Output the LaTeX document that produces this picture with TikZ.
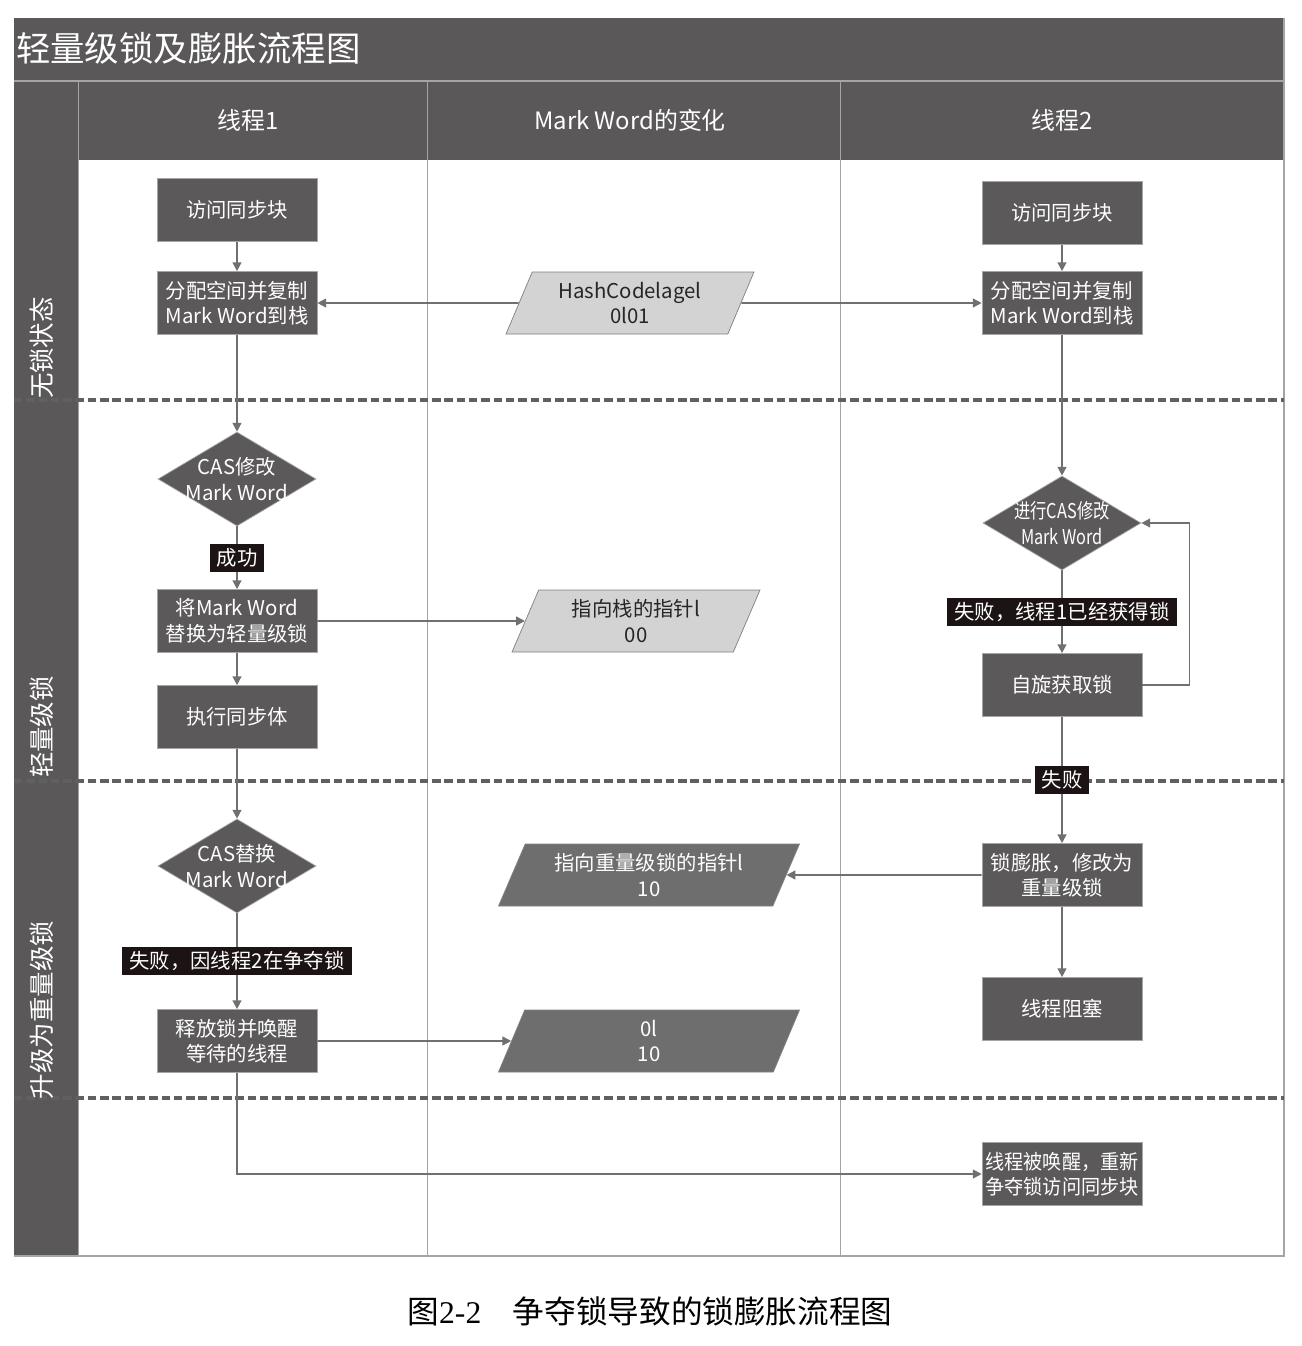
\documentclass[tikz,border=0pt]{standalone}
\usepackage{fontspec}
\setmainfont{Noto Sans CJK SC}
\newfontfamily\capserif{Liberation Serif}
\usetikzlibrary{shapes.geometric,arrows.meta}
\definecolor{bargray}{HTML}{5A5858}
\definecolor{boxgray}{HTML}{5B5959}
\definecolor{paragray}{HTML}{6E6E6E}
\definecolor{palegray}{HTML}{D3D3D3}
\definecolor{tagblack}{HTML}{1C1414}
\definecolor{linegray}{HTML}{707070}
\definecolor{rulegray}{HTML}{A5A5A5}
\definecolor{dashgray}{HTML}{606060}

\begin{document}
\begin{tikzpicture}[x=0.02cm,y=-0.02cm,
  >={Triangle[length=5pt,width=5pt]},
  box/.style={draw=gray!70,fill=boxgray,text=white,minimum width=3.2cm,minimum height=1.26cm,inner sep=1pt,align=center,font=\fontsize{11.6}{14.5}\selectfont},
  decision/.style={diamond,draw=gray!70,fill=boxgray,text=white,aspect=1.68,inner sep=-8pt,minimum width=3.16cm,minimum height=1.88cm,align=center,font=\fontsize{11.6}{14.5}\selectfont},
  mword/.style={trapezium,trapezium left angle=64,trapezium right angle=116,trapezium stretches body,draw=gray,minimum height=1.24cm,minimum width=4.96cm,align=center,font=\fontsize{11.6}{14.5}\selectfont},
  lightword/.style={mword,fill=palegray,text=black!85},
  darkword/.style={mword,fill=paragray,text=white,minimum width=6.02cm},
  tag/.style={fill=tagblack,text=white,inner xsep=4pt,inner ysep=2.5pt,font=\fontsize{11.6}{14}\selectfont},
  flow/.style={draw=linegray,line width=0.9pt,->},
  lane/.style={text=white,rotate=90,font=\fontsize{14.5}{16}\selectfont},
  head/.style={text=white,font=\fontsize{13.6}{16}\selectfont}]
\useasboundingbox (0,0) rectangle (1302,1346);

\fill[bargray] (14,18) rectangle (1284,80);
\fill[bargray] (14,80) rectangle (78,1256);
\fill[bargray] (78,82) rectangle (1284,160);
\draw[rulegray,line width=1pt] (14,81) -- (1284,81);
\draw[rulegray] (78,82) -- (78,1256);
\draw[rulegray] (427,82) -- (427,1256);
\draw[rulegray] (840,82) -- (840,1256);
\draw[rulegray,line width=1pt] (14,1256) -- (1284,1256) -- (1284,18);
\foreach \y in {400,781,1098}
  \draw[dashgray,line width=2pt,dash pattern=on 4.8pt off 2.2pt] (14,\y) -- (1284,\y);

\node[anchor=west,text=white,inner sep=1pt,font=\fontsize{19.6}{22}\selectfont] (title) at (14,48) {轻量级锁及膨胀流程图};
\node[head] (thread1) at (248,120) {线程1};
\node[head] (markword) at (630,120) {Mark Word的变化};
\node[head] (thread2) at (1062,120) {线程2};
\node[lane] (nolock) at (42,348) {无锁状态};
\node[lane] (thinlock) at (42,727) {轻量级锁};
\node[lane] (fatlock) at (42,1010) {升级为重量级锁};

\node[box] (visit1) at (237,210) {访问同步块};
\node[box] (alloc1) at (237,303) {分配空间并复制\\Mark Word到栈};
\node[decision] (cas1) at (237,479) {CAS修改\\Mark Word};
\node[box] (swap1) at (237,621) {将Mark Word\\替换为轻量级锁};
\node[box] (exec1) at (237,717) {执行同步体};
\node[decision] (cas2) at (237,866) {CAS替换\\Mark Word};
\node[box] (release1) at (237,1041) {释放锁并唤醒\\等待的线程};

\node[lightword] (hash) at (630,303) {HashCodelagel\\0l01};
\node[lightword] (stackptr) at (636,621) {指向栈的指针l\\00};
\node[darkword] (monptr) at (649,875) {指向重量级锁的指针l\\10};
\node[darkword] (unlocked) at (649,1041) {0l\\10};

\node[box] (visit2) at (1062,213) {访问同步块};
\node[box] (alloc2) at (1062,303) {分配空间并复制\\Mark Word到栈};
\node[decision,font=\fontsize{11.6}{14.5}\selectfont\addfontfeatures{FakeStretch=0.8}] (cas3) at (1062,523) {进行CAS修改\\Mark Word};
\node[box] (spin2) at (1062,685) {自旋获取锁};
\node[box] (inflate2) at (1062,875) {锁膨胀，修改为\\重量级锁};
\node[box] (block2) at (1062,1009) {线程阻塞};
\node[box,inner sep=0pt,font=\fontsize{11.6}{14.5}\selectfont\addfontfeatures{FakeStretch=0.94}] (wake2) at (1062,1174) {线程被唤醒，重新\\争夺锁访问同步块};

\draw[flow] (visit1) -- (alloc1);
\draw[flow] (hash) -- (alloc1);
\draw[flow] (hash) -- (alloc2);
\draw[flow] (alloc1) -- (cas1);
\draw[flow] (cas1) -- node[tag] {成功} (swap1);
\draw[flow] (swap1) -- (stackptr);
\draw[flow] (swap1) -- (exec1);
\draw[flow] (exec1) -- (cas2);
\draw[flow] (cas2) -- node[tag] {失败，因线程2在争夺锁} (release1);
\draw[flow] (release1) -- (unlocked);
\draw[flow] (release1) |- (wake2);
\draw[flow] (visit2) -- (alloc2);
\draw[flow] (alloc2) -- (cas3);
\draw[flow] (cas3) -- node[tag] {失败，线程1已经获得锁} (spin2);
\draw[flow] (spin2.east) -- ++(47,0) |- (cas3.east);
\draw[flow] (spin2) -- node[tag] {失败} (inflate2);
\draw[flow] (inflate2) -- (monptr);
\draw[flow] (inflate2) -- (block2);

\node[font=\fontsize{18}{20}\selectfont] (caption) at (650,1311) {图{\capserif 2-2}\quad 争夺锁导致的锁膨胀流程图};
\end{tikzpicture}
\end{document}
